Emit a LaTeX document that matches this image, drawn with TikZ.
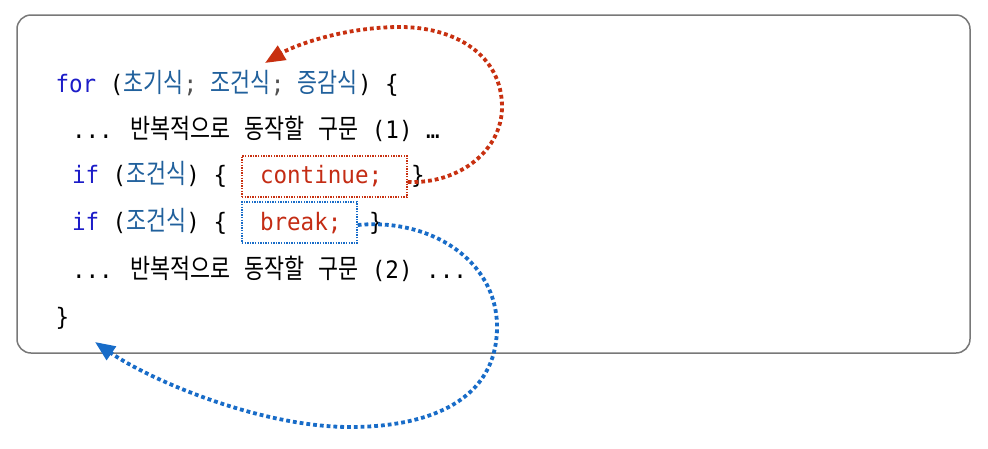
\documentclass[tikz,border=0pt]{standalone}
\usepackage{fontspec}
\setmainfont{DejaVu Sans Mono}
\newfontfamily\monof{DejaVu Sans Mono}[FakeStretch=0.94]
\newfontfamily\krf{Noto Sans CJK KR}[Scale=1.12,FakeStretch=0.81]
\usetikzlibrary{arrows.meta}
\definecolor{kwblue}{RGB}{28,28,200}
\definecolor{argblue}{RGB}{32,96,156}
\definecolor{semigray}{RGB}{80,80,80}
\definecolor{codered}{RGB}{196,44,20}
\definecolor{arrred}{RGB}{200,48,16}
\definecolor{arrblue}{RGB}{24,108,200}
\definecolor{framegray}{RGB}{120,120,120}
\newcommand\krt[1]{{\krf #1}}
\tikzset{
  code/.style={anchor=base west, inner sep=0pt, outer sep=0pt,
    font=\monof\fontsize{24}{28}\selectfont},
  framebox/.style={draw=framegray, line width=1.5pt, rounded corners=14pt,
    inner sep=0pt, minimum width=953pt, minimum height=338pt},
  redbox/.style={draw=arrred, line width=1.4pt, dash pattern=on 1.4pt off 1.2pt,
    inner sep=0pt, minimum width=165pt, minimum height=41pt},
  bluebox/.style={draw=arrblue, line width=1.4pt, dash pattern=on 1.4pt off 1.2pt,
    inner sep=0pt, minimum width=115pt, minimum height=41pt},
  jump/.style={line width=3.8pt, dash pattern=on 3.8pt off 3pt,
    -{Triangle[length=20pt,width=16pt]}}
}
\begin{document}
\begin{tikzpicture}[x=1pt,y=-1pt]
\useasboundingbox (0,0) rectangle (988,448);
\fill[white] (0,0) rectangle (988,448);
\node[framebox] (frame) at (493.5,184) {};

\node[code] (l1) at (55.5,92) {\textcolor{kwblue}{for} (\textcolor{argblue}{\krt{초기식}}\textcolor{semigray}{;} \textcolor{argblue}{\krt{조건식}}\textcolor{semigray}{;} \textcolor{argblue}{\krt{증감식}}) \{};
\node[code] (l2) at (72,138) {... \krt{반복적으로} \krt{동작할} \krt{구문} (1) …};
\node[code] (l3) at (72,183) {\textcolor{kwblue}{if} (\textcolor{argblue}{\krt{조건식}}) \{};
\node[redbox] (contbox) at (324.5,176.5) {};
\node[code, text=codered] (cont) at (260,183) {continue;};
\node[code] (l3end) at (411,183) {\}};
\node[code] (l4) at (72,230) {\textcolor{kwblue}{if} (\textcolor{argblue}{\krt{조건식}}) \{};
\node[bluebox] (brkbox) at (299.5,222.5) {};
\node[code, text=codered] (brk) at (260,230) {break;};
\node[code] (l4end) at (369,230) {\}};
\node[code] (l5) at (72,278) {... \krt{반복적으로} \krt{동작할} \krt{구문} (2) ...};
\node[code] (l6) at (55.5,325) {\}};

\coordinate (redend) at (265,63);
\coordinate (blueend) at (95,342);

\draw[jump, draw=arrred] ([yshift=-5.5pt]contbox.east)
  .. controls (460,184) and (502,150) .. (502,107)
  .. controls (502,55) and (455,27) .. (400,27)
  .. controls (345,27) and (295,45) .. (redend);
\draw[jump, draw=arrblue] ([yshift=-2.5pt]brkbox.east)
  .. controls (430,218) and (497,260) .. (497,327)
  .. controls (497,400) and (430,427) .. (350,427)
  .. controls (260,427) and (150,380) .. (blueend);
\end{tikzpicture}
\end{document}
